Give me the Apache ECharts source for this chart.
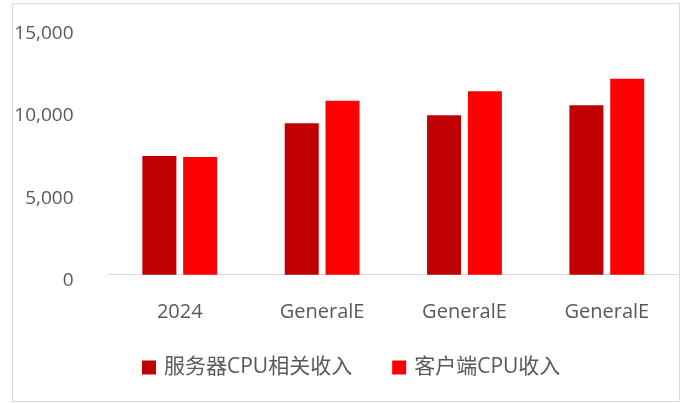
<!DOCTYPE html>
<html>
<head>
<meta charset="utf-8">
<script src="https://cdn.jsdelivr.net/npm/echarts@6/dist/echarts.min.js"></script>
<style>
html,body{margin:0;padding:0;background:#fff;}
#chart{width:687px;height:403px;}
</style>
</head>
<body>
<div id="chart"></div>
<script>
var categories = ['2024', 'GeneralE', 'GeneralE', 'GeneralE'];
var serverCpu = [7200, 9180, 9670, 10270];
var clientCpu = [7130, 10550, 11120, 11870];
var seriesNames = ['服务器CPU相关收入', '客户端CPU收入'];
var yTicks = [0, 5000, 10000, 15000];

var font = '"Open Sans", "Noto Sans CJK SC", sans-serif';
var textColor = '#595959';
var chart = echarts.init(document.getElementById('chart'));
chart.setOption({
  animation: false,
  backgroundColor: '#fff',
  graphic: [{
    type: 'rect',
    shape: { x: 12.5, y: 3.5, width: 667, height: 398 },
    style: { fill: 'none', stroke: '#d9d9d9', lineWidth: 1 },
    silent: true
  }],
  grid: { left: 108.6, right: 9, top: 27.2, bottom: 128.3 },
  legend: {
    left: 142,
    top: 357,
    padding: 0,
    itemWidth: 14,
    itemHeight: 14,
    itemGap: 40,
    icon: 'rect',
    textStyle: { fontFamily: font, fontSize: 21, color: textColor, padding: [0, 0, 0, 3] },
    data: seriesNames
  },
  xAxis: {
    type: 'category',
    data: categories,
    axisLine: { lineStyle: { color: '#d9d9d9', width: 1 } },
    axisTick: { show: false },
    axisLabel: { interval: 0, margin: 28, fontFamily: font, fontSize: 20, color: textColor }
  },
  yAxis: {
    type: 'value',
    min: yTicks[0],
    max: yTicks[yTicks.length - 1],
    interval: 5000,
    splitLine: { show: false },
    axisLine: { show: false },
    axisTick: { show: false },
    axisLabel: {
      margin: 35,
      fontFamily: font, fontSize: 19, color: textColor,
      verticalAlign: 'top',
      lineHeight: 12,
      formatter: function (v) { return v.toLocaleString('en-US'); }
    }
  },
  series: [
    { name: seriesNames[0], type: 'bar', data: serverCpu, barWidth: 34, barGap: '20%', itemStyle: { color: '#C00000' } },
    { name: seriesNames[1], type: 'bar', data: clientCpu, barWidth: 34, barGap: '20%', itemStyle: { color: '#FF0000' } }
  ]
});
</script>
</body>
</html>
